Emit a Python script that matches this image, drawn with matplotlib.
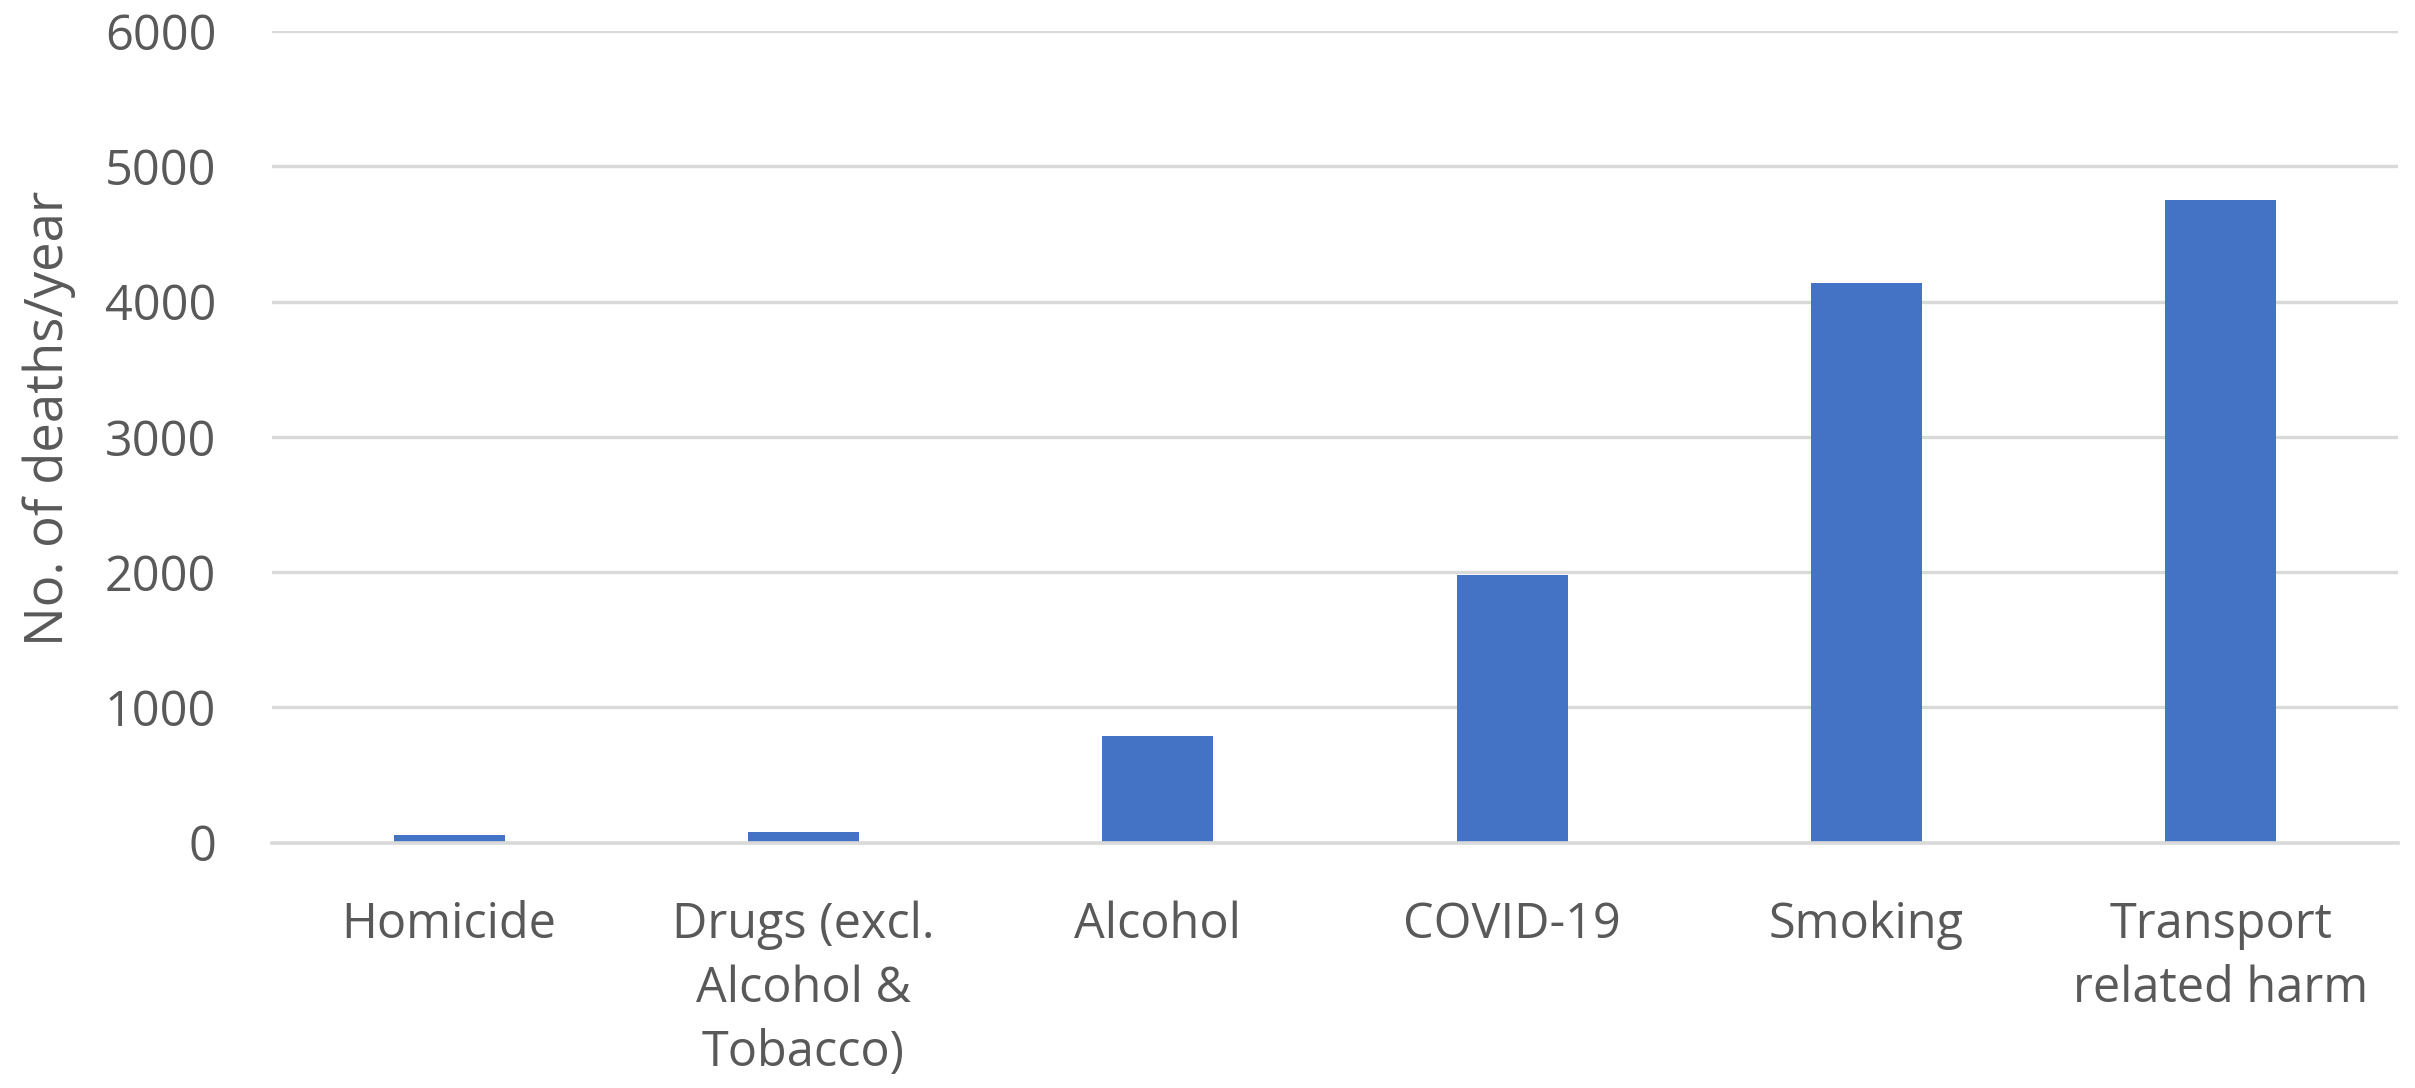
import matplotlib.pyplot as plt
import numpy as np

CATEGORIES = [
    "Homicide",
    "Drugs (excl.\nAlcohol &\nTobacco)",
    "Alcohol",
    "COVID-19",
    "Smoking",
    "Transport\nrelated harm",
]
DEATHS = [60, 80, 790, 1980, 4135, 4750]
Y_TICKS = [0, 1000, 2000, 3000, 4000, 5000, 6000]

BAR_COLOR = "#4472C4"
GRID_COLOR = "#d9d9d9"
TEXT_COLOR = "#595959"


def main() -> None:
    plt.rcParams["font.family"] = ["Open Sans", "DejaVu Sans"]

    fig = plt.figure(figsize=(24.15, 10.88), dpi=100)
    ax = fig.add_axes([0.1126, 0.2255, 0.8803, 0.746])

    x = np.arange(len(CATEGORIES))
    ax.bar(x, DEATHS, width=0.313, color=BAR_COLOR, zorder=3)

    ax.set_xlim(-0.5, len(CATEGORIES) - 0.5)
    ax.set_ylim(0, 6000)
    ax.set_yticks(Y_TICKS)
    ax.set_yticklabels([str(v) for v in Y_TICKS])
    ax.yaxis.grid(True, color=GRID_COLOR, lw=2.4, zorder=0)
    ax.set_axisbelow(True)

    for side in ["top", "right", "left"]:
        ax.spines[side].set_visible(False)
    ax.spines["bottom"].set_color(GRID_COLOR)
    ax.spines["bottom"].set_linewidth(2.6)
    ax.spines["bottom"].set_zorder(4)

    ax.set_xticks(x)
    ax.set_xticklabels(CATEGORIES, linespacing=1.38, va="top")
    ax.tick_params(axis="x", length=0, pad=42, labelsize=35, labelcolor=TEXT_COLOR)
    ax.tick_params(axis="y", length=0, pad=40, labelsize=35, labelcolor=TEXT_COLOR)

    ax.set_ylabel("No. of deaths/year", fontsize=38, color=TEXT_COLOR)
    ax.yaxis.set_label_coords(-0.092, 0.523)

    fig.savefig("out.png", dpi=100)
    plt.close(fig)


if __name__ == "__main__":
    main()
